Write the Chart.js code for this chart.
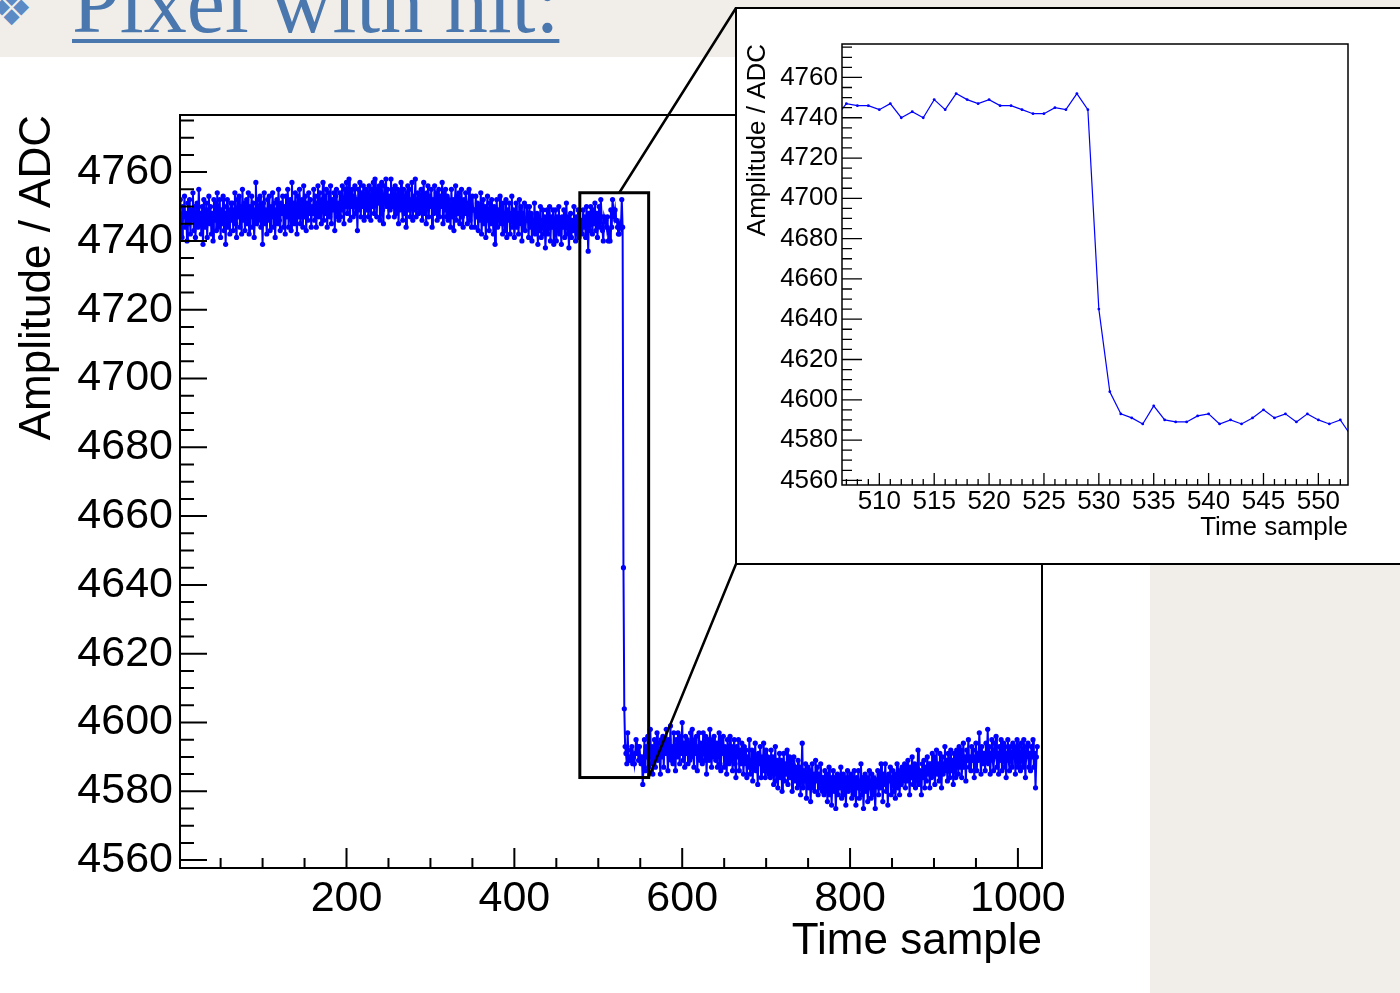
<!doctype html>
<html lang="en">
  <head>
    <meta charset="utf-8">
    <title>Pixel with hit</title>
    <style>
      * {
        margin: 0;
        padding: 0;
      }
      html, body {
        width: 1400px;
        height: 993px;
        overflow: hidden;
        background: #fff;
      }
      body {
        position: relative;
      }
      .band {
        position: absolute;
        left: 0;
        top: 0;
        width: 1400px;
        height: 57px;
        background: #f1eee9;
      }
      .side {
        position: absolute;
        left: 1150px;
        top: 57px;
        width: 250px;
        height: 936px;
        background: #f1eee9;
      }
      .bullet {
        position: absolute;
        left: -10px;
        top: -16px;
        font: 48px/48px "DejaVu Sans", sans-serif;
        color: #5b8ac4;
      }
      .slideTitle {
        position: absolute;
        left: 72px;
        top: -40px;
        font: 86px/86px "Liberation Serif", "Times New Roman", serif;
        color: #4a77ae;
        white-space: nowrap;
        text-decoration: underline;
        text-decoration-thickness: 4px;
        text-underline-offset: 7px;
      }
      #mainChart {
        position: absolute;
        left: 0;
        top: 0;
      }
      #insetFrame {
        position: absolute;
        left: 735px;
        top: 7px;
        width: 700px;
        height: 554px;
        border: 2.5px solid #000;
        background: #fff;
      }
      #insetChart {
        position: absolute;
        left: 737px;
        top: 10px;
      }
    </style>
  </head>
  <body>
    <div class="band"></div>
    <div class="side"></div>
    <div class="bullet">❖</div>
    <div class="slideTitle">Pixel with hit:</div>
    <canvas id="mainChart" width="1400" height="993"></canvas>
    <div id="insetFrame"></div>
    <canvas id="insetChart" width="663" height="554"></canvas>

    <script src="https://cdn.jsdelivr.net/npm/chart.js/dist/chart.umd.min.js"></script>
    <script>
    // ADC amplitude for each time sample (array index = sample number)
    const firstSample = 0;
    const adcValues = [
      4749,4743,4752,4746,4741,4750,4747,4753,4744,4748,4740,4751,4745,4752,4742,4749,
      4746,4754,4743,4750,4741,4747,4751,4744,4755,4745,4748,4742,4750,4739,4752,4746,
      4744,4751,4741,4749,4753,4745,4750,4742,4748,4740,4752,4746,4751,4743,4754,4744,
      4747,4752,4741,4749,4745,4753,4743,4748,4739,4750,4752,4744,4749,4742,4751,4746,
      4751,4743,4749,4754,4745,4741,4752,4747,4753,4744,4750,4742,4755,4746,4751,4743,
      4749,4752,4745,4754,4742,4750,4747,4753,4744,4751,4741,4749,4757,4745,4752,4746,
      4747,4753,4744,4750,4739,4751,4754,4745,4749,4742,4752,4746,4753,4743,4750,4747,
      4754,4744,4751,4741,4749,4752,4745,4755,4746,4743,4751,4748,4753,4744,4750,4742,
      4753,4747,4755,4744,4750,4752,4743,4757,4746,4751,4745,4754,4748,4742,4753,4747,
      4755,4745,4750,4752,4744,4756,4747,4753,4743,4751,4746,4754,4748,4752,4744,4750,
      4748,4755,4746,4753,4744,4751,4756,4747,4754,4749,4745,4752,4757,4746,4753,4748,
      4755,4744,4751,4754,4747,4756,4745,4752,4749,4754,4743,4753,4755,4747,4751,4746,
      4754,4747,4752,4756,4749,4745,4755,4750,4757,4748,4753,4758,4746,4754,4750,4755,
      4747,4753,4756,4748,4752,4743,4755,4749,4757,4747,4754,4750,4756,4746,4753,4755,
      4749,4754,4747,4756,4752,4746,4755,4750,4757,4748,4758,4753,4747,4755,4751,4756,
      4746,4754,4757,4749,4745,4756,4751,4758,4750,4755,4747,4753,4749,4758,4750,4755,
      4753,4747,4756,4748,4752,4755,4745,4754,4749,4757,4750,4746,4755,4748,4753,4744,
      4754,4756,4749,4755,4747,4752,4757,4746,4753,4749,4758,4747,4752,4754,4748,4753,
      4749,4755,4746,4752,4757,4748,4753,4745,4754,4756,4747,4753,4750,4755,4744,4752,
      4748,4756,4749,4754,4746,4752,4755,4747,4753,4750,4757,4745,4754,4749,4755,4747,
      4753,4746,4752,4749,4744,4755,4747,4752,4743,4751,4756,4746,4753,4748,4754,4745,
      4751,4755,4747,4744,4752,4748,4754,4751,4745,4749,4755,4746,4752,4744,4753,4749,
      4749,4744,4753,4747,4751,4743,4750,4746,4754,4742,4749,4752,4745,4750,4741,4749,
      4753,4746,4743,4751,4745,4752,4749,4742,4750,4739,4747,4752,4744,4749,4746,4753,
      4745,4750,4742,4751,4747,4743,4752,4741,4749,4746,4751,4742,4748,4753,4744,4749,
      4741,4746,4751,4744,4748,4742,4752,4745,4750,4740,4748,4744,4751,4743,4746,4750,
      4747,4741,4750,4744,4748,4740,4746,4743,4751,4742,4745,4748,4739,4747,4743,4750,
      4741,4746,4749,4742,4747,4738,4744,4749,4742,4746,4750,4740,4747,4744,4749,4739,
      4744,4749,4740,4747,4743,4750,4742,4746,4739,4747,4744,4749,4741,4746,4751,4742,
      4747,4738,4744,4748,4741,4746,4743,4750,4744,4740,4747,4742,4749,4741,4746,4743,
      4746,4742,4749,4744,4747,4741,4750,4746,4737,4748,4743,4750,4747,4742,4749,4745,
      4751,4743,4748,4741,4747,4750,4744,4752,4747,4743,4740,4747,4746,4746,4744,4747,
      4740,4743,4740,4749,4744,4752,4749,4747,4749,4746,4746,4744,4742,4742,4745,4744,
      4752,4744,4645,4604,4593,4591,4588,4597,4590,4589,4589,4592,4593,4588,4590,4588,
      4591,4595,4591,4593,4589,4593,4590,4588,4590,4582,4588,4595,4586,4593,4590,4596,
      4587,4592,4598,4588,4593,4585,4592,4595,4587,4593,4597,4589,4594,4590,4585,4595,
      4590,4596,4587,4595,4591,4598,4592,4586,4595,4590,4599,4589,4593,4588,4597,4591,
      4586,4595,4590,4597,4593,4588,4596,4591,4600,4589,4594,4587,4596,4591,4595,4588,
      4594,4589,4597,4590,4598,4592,4587,4595,4591,4596,4586,4593,4597,4589,4594,4591,
      4588,4597,4593,4589,4596,4585,4593,4595,4589,4598,4591,4587,4595,4590,4596,4592,
      4589,4594,4587,4593,4597,4588,4586,4595,4591,4596,4587,4593,4590,4585,4595,4591,
      4588,4596,4589,4593,4586,4592,4595,4588,4584,4593,4590,4595,4586,4592,4588,4594,
      4591,4585,4593,4588,4592,4584,4590,4587,4595,4585,4589,4592,4583,4591,4587,4594,
      4586,4590,4582,4591,4588,4593,4584,4590,4586,4594,4588,4584,4592,4586,4590,4585,
      4589,4584,4592,4585,4590,4582,4588,4593,4583,4589,4581,4588,4591,4584,4589,4580,
      4587,4591,4583,4588,4585,4592,4582,4588,4590,4584,4589,4580,4586,4590,4583,4587,
      4586,4581,4589,4582,4587,4579,4585,4594,4581,4586,4583,4588,4578,4585,4587,4581,
      4586,4577,4584,4588,4581,4585,4580,4589,4583,4587,4579,4585,4581,4588,4584,4580,
      4584,4579,4586,4580,4585,4577,4582,4587,4579,4584,4576,4583,4586,4580,4584,4575,
      4583,4585,4579,4584,4581,4587,4578,4582,4585,4579,4584,4576,4583,4586,4580,4584,
      4581,4585,4578,4584,4579,4586,4582,4576,4584,4581,4586,4578,4583,4588,4579,4584,
      4575,4583,4585,4580,4584,4577,4581,4586,4582,4578,4585,4579,4584,4581,4575,4583,
      4582,4586,4579,4585,4581,4588,4583,4577,4585,4582,4588,4580,4584,4576,4585,4583,
      4587,4579,4584,4586,4580,4585,4578,4583,4588,4581,4586,4579,4585,4582,4587,4583,
      4584,4588,4581,4587,4583,4589,4585,4579,4587,4584,4590,4582,4585,4588,4581,4587,
      4583,4592,4582,4586,4585,4579,4588,4584,4589,4581,4587,4583,4590,4585,4588,4581,
      4588,4584,4591,4585,4590,4582,4587,4592,4585,4588,4583,4591,4587,4581,4590,4585,
      4588,4593,4586,4589,4583,4591,4588,4584,4592,4586,4589,4582,4591,4588,4584,4592,
      4590,4585,4593,4587,4592,4584,4589,4594,4587,4590,4583,4592,4589,4595,4587,4590,
      4586,4593,4589,4592,4584,4590,4594,4586,4591,4589,4597,4590,4585,4593,4588,4591,
      4591,4586,4594,4589,4598,4588,4593,4585,4591,4595,4589,4586,4594,4590,4596,4587,
      4591,4585,4593,4589,4595,4586,4591,4594,4587,4593,4584,4591,4595,4589,4586,4593,
      4591,4587,4594,4590,4593,4585,4591,4595,4587,4593,4590,4586,4594,4591,4587,4595,
      4589,4584,4593,4590,4594,4587,4591,4586,4593,4590,4595,4587,4591,4581,4590,4593
    ];

    // axis ranges (same y range on both pads) and labelled tick values
    const mainXRange = [1.6, 1028.7];
    const insetXRange = [506.6, 552.7];
    const yRange = [4557.7, 4776.6];
    const mainXLabels = [200, 400, 600, 800, 1000];
    const insetXLabels = [510, 515, 520, 525, 530, 535, 540, 545, 550];
    const yLabels = [4560, 4580, 4600, 4620, 4640, 4660, 4680, 4700, 4720, 4740, 4760];

    // zoom window marked on the main plot, data units
    const zoomX = [478, 560];
    const zoomY = [4584, 4754];
    const zoomLinkX = 525;   // where the upper connector leaves the box

    const points = adcValues.map((v, i) => ({ x: firstSample + i, y: v }));

    Chart.defaults.font.family = "'Liberation Sans', Arial, Helvetica, sans-serif";
    Chart.defaults.color = '#000';

    // ROOT style frame with ticks pointing inwards
    const rootAxes = {
      id: 'rootAxes',
      afterDatasetsDraw(chart, args, opts) {
        const { ctx, chartArea: a, scales: { x, y } } = chart;
        ctx.save();
        ctx.strokeStyle = '#000';
        ctx.lineWidth = opts.tickWidth;
        ctx.beginPath();
        for (let k = Math.ceil(x.min / opts.x.minor); k * opts.x.minor <= x.max; k++) {
          const len = (k % Math.round(opts.x.major / opts.x.minor) === 0) ? opts.x.majorLen : opts.x.minorLen;
          const px = x.getPixelForValue(k * opts.x.minor);
          ctx.moveTo(px, a.bottom);
          ctx.lineTo(px, a.bottom - len);
        }
        for (let k = Math.ceil(y.min / opts.y.minor); k * opts.y.minor <= y.max; k++) {
          const len = (k % Math.round(opts.y.major / opts.y.minor) === 0) ? opts.y.majorLen : opts.y.minorLen;
          const py = y.getPixelForValue(k * opts.y.minor);
          ctx.moveTo(a.left, py);
          ctx.lineTo(a.left + len, py);
        }
        ctx.stroke();
        ctx.lineWidth = opts.frameWidth;
        ctx.strokeRect(a.left, a.top, a.right - a.left, a.bottom - a.top);
        ctx.restore();
      }
    };

    // zoom box + the two lines running to the inset pad
    const zoomMarks = {
      id: 'zoomMarks',
      afterDraw(chart) {
        const { ctx, scales: { x, y } } = chart;
        const l = x.getPixelForValue(zoomX[0]);
        const r = x.getPixelForValue(zoomX[1]);
        const t = y.getPixelForValue(zoomY[1]);
        const b = y.getPixelForValue(zoomY[0]);
        const inset = document.getElementById('insetFrame').getBoundingClientRect();
        ctx.save();
        ctx.strokeStyle = '#000';
        ctx.lineWidth = 3;
        ctx.strokeRect(l, t, r - l, b - t);
        ctx.lineWidth = 2.5;
        ctx.beginPath();
        ctx.moveTo(x.getPixelForValue(zoomLinkX), t);
        ctx.lineTo(inset.left + 1, inset.top + 1);
        ctx.moveTo(r, b);
        ctx.lineTo(inset.left + 1, inset.bottom - 1);
        ctx.stroke();
        ctx.restore();
      }
    };

    function fixedTicks(values) {
      return (scale) => { scale.ticks = values.map(v => ({ value: v })); };
    }

    function pad(opts) {
      return {
        type: 'scatter',
        data: {
          datasets: [{
            data: points,
            showLine: true,
            borderColor: '#0000ff',
            backgroundColor: '#0000ff',
            borderWidth: opts.lineWidth,
            pointRadius: opts.pointRadius,
            pointHoverRadius: opts.pointRadius,
            pointBorderWidth: 0,
            clip: 0
          }]
        },
        options: {
          responsive: false,
          animation: false,
          events: [],
          layout: { padding: opts.padding },
          plugins: {
            legend: { display: false },
            tooltip: { enabled: false },
            rootAxes: opts.ticks
          },
          scales: {
            x: {
              type: 'linear',
              min: opts.xRange[0],
              max: opts.xRange[1],
              grid: { display: false, drawTicks: false },
              border: { display: false },
              afterBuildTicks: fixedTicks(opts.xLabels),
              ticks: {
                autoSkip: false,
                maxRotation: 0,
                padding: opts.xLabelPad,
                font: { size: opts.labelSize },
                callback: (v) => String(v)
              },
              title: {
                display: true,
                text: 'Time sample',
                align: 'end',
                font: { size: opts.titleSize },
                padding: { top: 0, bottom: opts.xTitlePad }
              },
              afterFit: (s) => { s.height = opts.xAxisHeight; }
            },
            y: {
              type: 'linear',
              min: yRange[0],
              max: yRange[1],
              grid: { display: false, drawTicks: false },
              border: { display: false },
              afterBuildTicks: fixedTicks(yLabels),
              ticks: {
                autoSkip: false,
                padding: opts.yLabelPad,
                font: { size: opts.labelSize },
                callback: (v) => String(v)
              },
              title: {
                display: true,
                text: 'Amplitude / ADC',
                align: 'end',
                font: { size: opts.titleSize },
                padding: { top: opts.yTitlePad, bottom: 0 }
              },
              afterFit: (s) => { s.width = opts.yAxisWidth; }
            }
          }
        },
        plugins: opts.plugins
      };
    }

    const mainChart = new Chart(document.getElementById('mainChart'), pad({
      xRange: mainXRange,
      xLabels: mainXLabels,
      lineWidth: 2,
      pointRadius: 2.6,
      padding: { left: 0, top: 115, right: 358, bottom: 0 },
      labelSize: 43,
      titleSize: 44,
      xLabelPad: 5,
      yLabelPad: 7,
      xTitlePad: 25,
      yTitlePad: 11,
      xAxisHeight: 125,
      yAxisWidth: 180,
      ticks: {
        x: { minor: 50, major: 200, minorLen: 10, majorLen: 20 },
        y: { minor: 5, major: 20, minorLen: 14, majorLen: 27 },
        tickWidth: 2,
        frameWidth: 2
      },
      plugins: [rootAxes, zoomMarks]
    }));

    const insetChart = new Chart(document.getElementById('insetChart'), pad({
      xRange: insetXRange,
      xLabels: insetXLabels,
      lineWidth: 1.2,
      pointRadius: 1.4,
      padding: { left: 0, top: 34, right: 52, bottom: 0 },
      labelSize: 26,
      titleSize: 26,
      xLabelPad: 1,
      yLabelPad: 4,
      xTitlePad: 21,
      yTitlePad: 5,
      xAxisHeight: 79,
      yAxisWidth: 105,
      ticks: {
        x: { minor: 1, major: 5, minorLen: 6, majorLen: 12 },
        y: { minor: 5, major: 20, minorLen: 10, majorLen: 20 },
        tickWidth: 1.3,
        frameWidth: 1.5
      },
      plugins: [rootAxes]
    }));
    </script>
  </body>
</html>
